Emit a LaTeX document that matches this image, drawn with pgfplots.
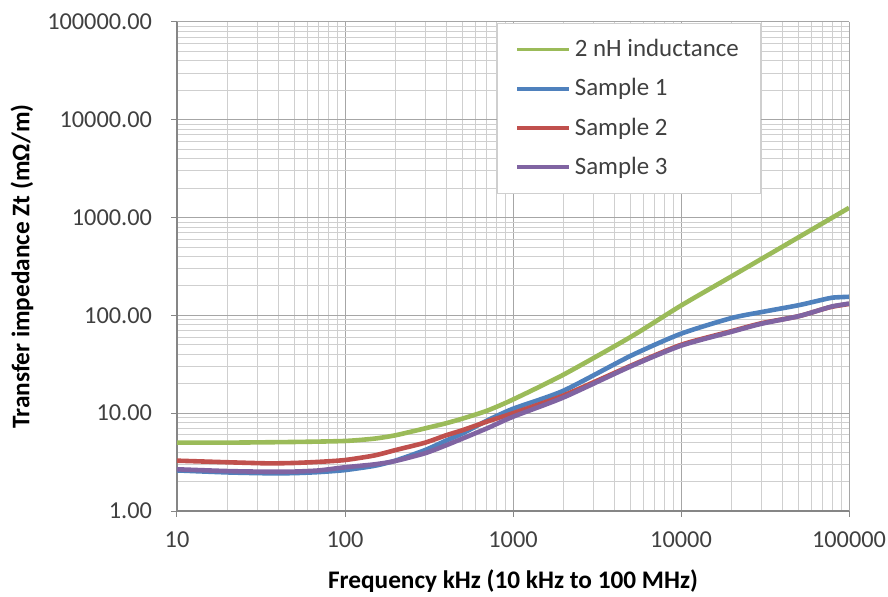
\documentclass[border=0pt]{standalone}
\usepackage{fontspec}
\setmainfont{Carlito}
\usepackage{pgfplots}
\pgfplotsset{compat=1.18}
\definecolor{cgreen}{HTML}{9BBB59}
\definecolor{cblue}{HTML}{4F81BD}
\definecolor{cred}{HTML}{C0504D}
\definecolor{cpurple}{HTML}{8064A2}
\definecolor{axisgray}{HTML}{868686}
\definecolor{majgray}{HTML}{A6A6A6}
\definecolor{mingray}{HTML}{CFCFCF}
\definecolor{labgray}{HTML}{404040}
\begin{document}
\begin{tikzpicture}
\begin{axis}[
  scale only axis, width=336bp, height=244.5bp,
  xmode=log, ymode=log,
  xmin=10, xmax=100000, ymin=1, ymax=100000,
  axis x line*=bottom, axis y line*=left,
  axis line style={draw=axisgray, line width=0.6bp},
  xtick={10,100,1000,10000,100000},
  xticklabels={10,100,1000,10000,100000},
  ytick={1,10,100,1000,10000,100000},
  yticklabels={1.00,10.00,100.00,1000.00,10000.00,100000.00},
  minor xtick={20,30,40,50,60,70,80,90,200,300,400,500,600,700,800,900,2000,3000,4000,5000,6000,7000,8000,9000,20000,30000,40000,50000,60000,70000,80000,90000},
  minor ytick={2,3,4,5,6,7,8,9,20,30,40,50,60,70,80,90,200,300,400,500,600,700,800,900,2000,3000,4000,5000,6000,7000,8000,9000,20000,30000,40000,50000,60000,70000,80000,90000},
  grid=both,
  major grid style={draw=majgray, line width=0.5bp},
  minor grid style={draw=mingray, line width=0.5bp},
  tick align=outside, major tick length=3bp, minor tick length=0pt,
  tick style={draw=axisgray, line width=0.5bp},
  ticklabel style={font=\fontsize{12.2}{14}\selectfont, text=labgray},
  xticklabel style={yshift=-4bp},
  yticklabel style={xshift=-6bp},
  xlabel={\textbf{Frequency kHz (10 kHz to 100 MHz)}},
  ylabel={\textbf{Transfer impedance Zt (mΩ/m)}},
  xlabel style={font=\fontsize{12.7}{15}\selectfont, at={(rel axis cs:0.5,0)}, anchor=base, yshift=-38.5bp},
  ylabel style={font=\fontsize{12.7}{15}\selectfont, at={(rel axis cs:0,0.5)}, anchor=center, yshift=77.5bp},
  legend style={at={(0.476,0.998)}, anchor=north west, draw=mingray, fill=white,
    font=\fontsize{12.5}{15}\selectfont, text=labgray, row sep=5.5bp, inner xsep=9bp, inner ysep=6bp},
  legend cell align=left,
  legend image code/.code={\draw[#1, line width=1.8bp] (0bp,0bp) -- (26bp,0bp);},
  every axis plot/.append style={line width=2.3bp, smooth, tension=0.4},
]
\addplot[cgreen] coordinates {
(10,5.0) (20,5.0) (50,5.08) (100,5.2) (150,5.5) (200,5.95) (300,7.0) (400,7.9) (500,8.8) (700,10.6) (1000,13.8) (2000,24.8) (5000,60) (10000,126) (20000,251) (50000,628) (100000,1257)};
\addlegendentry{2 nH inductance}
\addplot[cblue] coordinates {
(10,2.6) (20,2.48) (35,2.43) (50,2.44) (70,2.5) (100,2.62) (150,2.9) (200,3.28) (300,4.2) (400,5.25) (500,6.2) (700,8.4) (1000,11.1) (2000,17.0) (5000,38.5) (10000,65) (20000,94) (30000,108) (50000,127) (70000,145) (80000,152) (100000,155)};
\addlegendentry{Sample 1}
\addplot[cred] coordinates {
(10,3.27) (20,3.15) (35,3.07) (50,3.1) (70,3.18) (100,3.32) (150,3.7) (200,4.2) (300,5.0) (400,5.95) (500,6.7) (700,8.2) (1000,10.0) (2000,15.2) (5000,30.5) (10000,50) (20000,69) (30000,83) (50000,98) (70000,116) (80000,123) (100000,131)};
\addlegendentry{Sample 2}
\addplot[cpurple] coordinates {
(10,2.67) (20,2.56) (35,2.52) (50,2.53) (70,2.6) (100,2.8) (150,3.0) (200,3.25) (300,3.9) (400,4.7) (500,5.5) (700,7.0) (1000,9.2) (2000,14.5) (5000,30) (10000,49) (20000,68) (30000,82) (50000,98) (70000,116) (80000,124) (100000,132)};
\addlegendentry{Sample 3}
\coordinate (sw) at (rel axis cs:0,0);
\end{axis}
\pgfresetboundingbox
\path (sw) +(-88.5bp,-43bp) rectangle +(355.5bp,255.5bp);
\end{tikzpicture}
\end{document}
